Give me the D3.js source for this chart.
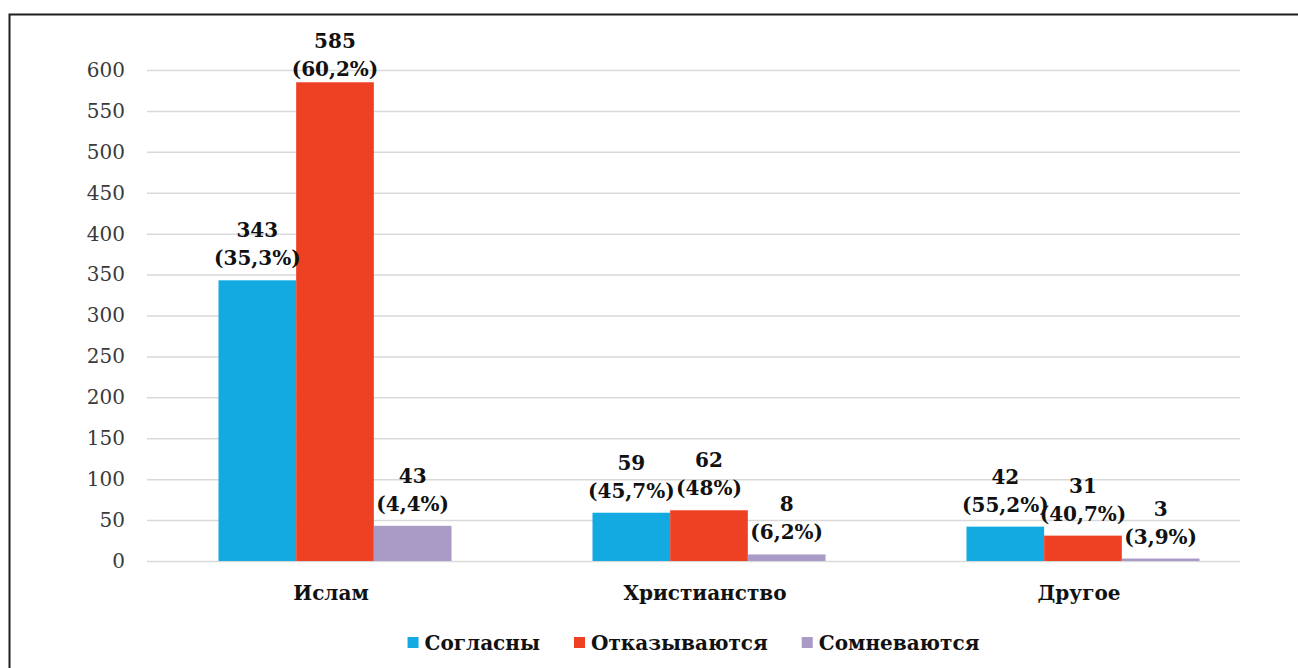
<!DOCTYPE html>
<html>
<head>
<meta charset="utf-8">
<script src="https://cdn.jsdelivr.net/npm/d3@7"></script>
<style>
  body { margin: 0; background: #fff; }
  svg { display: block; font-family: "DejaVu Serif", serif; }
  .y.axis text { font-size: 20px; fill: #3a3a3a; }
  .y.axis line { stroke: #d9d9d9; stroke-width: 1.5; }
  .x.axis text { font-size: 20px; font-weight: bold; fill: #111; }
  .lbl { font-size: 20px; font-weight: bold; fill: #111; }
  .legend text { font-size: 20px; font-weight: bold; fill: #111; }
</style>
</head>
<body>
<div id="chart"></div>
<script>
// data
var categories = ["Ислам", "Христианство", "Другое"];
var seriesNames = ["Согласны", "Отказываются", "Сомневаются"];
var agree = [343, 59, 42];
var refuse = [585, 62, 31];
var doubt = [43, 8, 3];
var agreePct = ["35,3%", "45,7%", "55,2%"];
var refusePct = ["60,2%", "48%", "40,7%"];
var doubtPct = ["4,4%", "6,2%", "3,9%"];
var yTicks = [0, 50, 100, 150, 200, 250, 300, 350, 400, 450, 500, 550, 600];
var colors = ["#13a9e1", "#ee4123", "#a99bc6"];

var width = 1298, height = 668;
var gridLeft = 147, gridRight = 1240;

var svg = d3.select("#chart").append("svg")
  .attr("width", width)
  .attr("height", height);

// frame (runs off the right and bottom edge)
svg.append("rect")
  .attr("x", 9.5).attr("y", 14.5)
  .attr("width", 1400).attr("height", 800)
  .attr("fill", "none")
  .attr("stroke", "#1e1e1e")
  .attr("stroke-width", 2);

var yScale = d3.scaleLinear().domain([0, 600]).range([561, 70]);

var x0 = d3.scaleBand().domain(categories)
  .range([148, 1270])
  .paddingInner(0.377)
  .paddingOuter(0.1885);

var x1 = d3.scaleBand().domain(seriesNames)
  .range([0, x0.bandwidth()]);

// y axis with gridlines
var yAxis = d3.axisLeft(yScale)
  .tickValues(yTicks)
  .tickSize(-(gridRight - gridLeft))
  .tickPadding(22);

svg.append("g")
  .attr("class", "y axis")
  .attr("transform", "translate(" + gridLeft + ",0)")
  .call(yAxis)
  .attr("font-family", null)
  .attr("font-size", null)
  .call(function (g) { g.select(".domain").remove(); });

// x axis labels
var xAxis = d3.axisBottom(x0).tickSize(0).tickPadding(0);
svg.append("g")
  .attr("class", "x axis")
  .attr("transform", "translate(-4,586)")
  .call(xAxis)
  .attr("font-family", null)
  .attr("font-size", null)
  .call(function (g) { g.select(".domain").remove(); });

// rows: one per category
var rows = categories.map(function (c, i) {
  return {
    cat: c,
    vals: [
      { s: seriesNames[0], v: agree[i], p: agreePct[i] },
      { s: seriesNames[1], v: refuse[i], p: refusePct[i] },
      { s: seriesNames[2], v: doubt[i], p: doubtPct[i] }
    ]
  };
});

var color = d3.scaleOrdinal().domain(seriesNames).range(colors);

var groups = svg.selectAll(".grp")
  .data(rows)
  .enter().append("g")
  .attr("class", "grp")
  .attr("transform", function (d) { return "translate(" + x0(d.cat) + ",0)"; });

groups.selectAll("rect")
  .data(function (d) { return d.vals; })
  .enter().append("rect")
  .attr("x", function (d) { return x1(d.s); })
  .attr("y", function (d) { return yScale(d.v); })
  .attr("width", x1.bandwidth())
  .attr("height", function (d) { return yScale(0) - yScale(d.v); })
  .attr("fill", function (d) { return color(d.s); });

// two-line labels above bars, pushed down when they'd hit the top
var lbl = groups.selectAll(".lbl")
  .data(function (d) { return d.vals; })
  .enter().append("text")
  .attr("class", "lbl")
  .attr("text-anchor", "middle");

lbl.append("tspan")
  .attr("x", function (d) { return x1(d.s) + x1.bandwidth() / 2; })
  .attr("y", function (d) { return Math.max(yScale(d.v) - 43, 48); })
  .text(function (d) { return d.v; });

lbl.append("tspan")
  .attr("x", function (d) { return x1(d.s) + x1.bandwidth() / 2; })
  .attr("y", function (d) { return Math.max(yScale(d.v) - 43, 48) + 28; })
  .text(function (d) { return "(" + d.p + ")"; });

// legend, centred under the plot
var legend = svg.append("g").attr("class", "legend");
var items = legend.selectAll("g")
  .data(seriesNames)
  .enter().append("g");

items.append("rect")
  .attr("width", 11).attr("height", 11)
  .attr("y", 637)
  .attr("fill", function (d) { return color(d); });

items.append("text")
  .attr("x", 17)
  .attr("y", 650)
  .text(function (d) { return d; });

var xpos = 0;
var offsets = [];
items.each(function () {
  offsets.push(xpos);
  var w = d3.select(this).select("text").node().getComputedTextLength();
  xpos += 17 + w + 34;
});
var total = xpos - 34;
var start = (gridLeft + gridRight) / 2 - total / 2;
items.attr("transform", function (d, i) { return "translate(" + (start + offsets[i]) + ",0)"; });
</script>
</body>
</html>
